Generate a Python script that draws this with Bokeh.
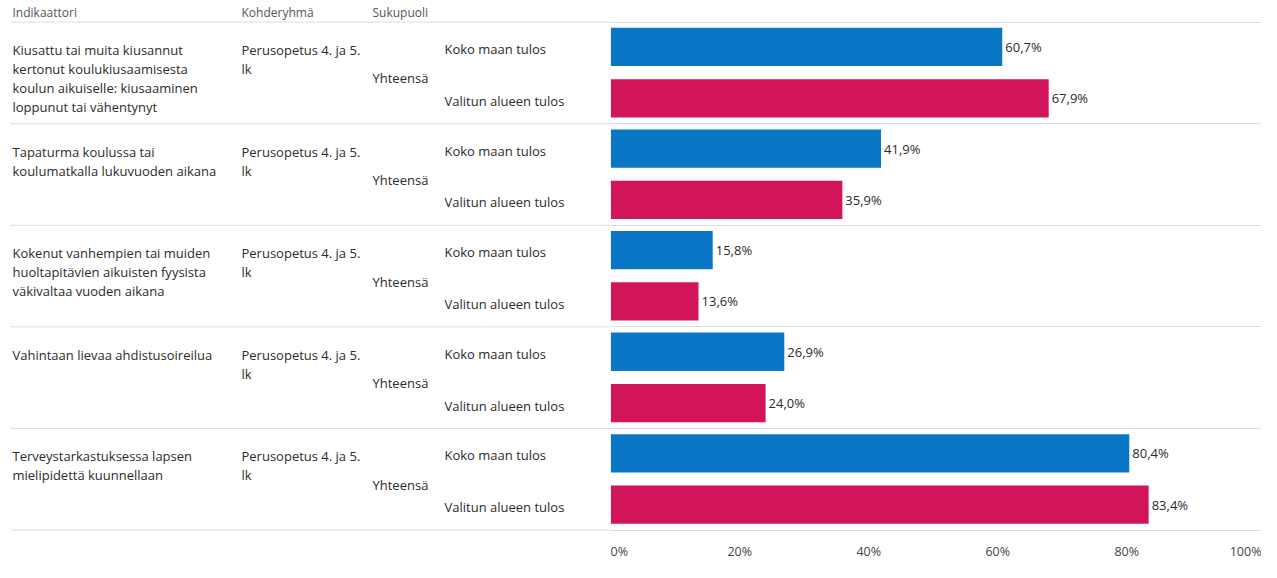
from bokeh.plotting import figure
from bokeh.layouts import row
from bokeh.models import Range1d, FixedTicker, CustomJSTickFormatter, ColumnDataSource
from bokeh.core.properties import value
from bokeh.embed import file_html
from bokeh.resources import INLINE

# ---------------- data ----------------
header_labels = ["Indikaattori", "Kohderyhmä", "Sukupuoli"]
indicators = [
    "Kiusattu tai muita kiusannut\nkertonut koulukiusaamisesta\nkoulun aikuiselle: kiusaaminen\nloppunut tai vähentynyt",
    "Tapaturma koulussa tai\nkoulumatkalla lukuvuoden aikana",
    "Kokenut vanhempien tai muiden\nhuoltapitävien aikuisten fyysista\nväkivaltaa vuoden aikana",
    "Vahintaan lievaa ahdistusoireilua",
    "Terveystarkastuksessa lapsen\nmielipidettä kuunnellaan",
]
target_groups = ["Perusopetus 4. ja 5.\nlk"] * 5
genders = ["Yhteensä"] * 5
series_names = ["Koko maan tulos", "Valitun alueen tulos"]
national = [60.7, 41.9, 15.8, 26.9, 80.4]
regional = [67.9, 35.9, 13.6, 24.0, 83.4]
x_ticks = [0, 20, 40, 60, 80, 100]

# ---------------- layout constants ----------------
U = 103.5             # pixels per indicator group
TOP = 22              # pixels above the first separator
H = 562
BOTTOM = 21
FONT = value("Open Sans")
BLUE = "#0a77c6"
RED = "#d2145a"
SEP = "#dcdbe6"
TXT = "#2b2b2b"
n = len(indicators)
y_rng = Range1d(start=n + 1.5 / U, end=-TOP / U)

# ---------------- left table ----------------
LW = 610
left = figure(width=LW, height=H, x_range=Range1d(0, LW), y_range=y_rng,
              output_backend="svg", toolbar_location=None,
              min_border_left=0, min_border_right=0, min_border_top=0,
              min_border_bottom=BOTTOM)
left.axis.visible = False
left.grid.visible = False
left.outline_line_color = None

col_x = [12, 241, 372]
left.text(x=col_x, y=[-10 / U] * 3, text=header_labels, text_font=FONT,
          text_font_size="12px", text_color="#555555", text_baseline="middle")

LINE = 19.3 / U
tx, ty, tt = [], [], []
for i in range(n):
    for k, line in enumerate(indicators[i].split("\n")):
        tx.append(col_x[0]); ty.append(i + 0.275 + k * LINE); tt.append(line)
    for k, line in enumerate(target_groups[i].split("\n")):
        tx.append(col_x[1]); ty.append(i + 0.275 + k * LINE); tt.append(line)
    tx.append(col_x[2]); ty.append(i + 0.555); tt.append(genders[i])
    tx.append(444); ty.append(i + 0.265); tt.append(series_names[0])
    tx.append(444); ty.append(i + 0.775); tt.append(series_names[1])
left.text(x=tx, y=ty, text=tt, text_font=FONT, text_font_size="13px",
          text_color=TXT, text_baseline="middle")
left.segment(x0=[10] * (n + 1), x1=[LW] * (n + 1), y0=list(range(n + 1)),
             y1=list(range(n + 1)), line_color=SEP, line_width=1)

# ---------------- right bars ----------------
RW = 651
right = figure(width=RW, height=H, x_range=Range1d(-0.05, 100.9), y_range=y_rng,
               output_backend="svg", toolbar_location=None,
               min_border_left=0, min_border_right=0, min_border_top=0,
               min_border_bottom=BOTTOM)
right.grid.visible = False
right.yaxis.visible = False
right.outline_line_color = None

idx = list(range(n))
src_n = ColumnDataSource(dict(y=[i + 0.245 for i in idx], v=national,
                              lab=[f"{v:.1f}".replace(".", ",") + "%" for v in national]))
src_r = ColumnDataSource(dict(y=[i + 0.75 for i in idx], v=regional,
                              lab=[f"{v:.1f}".replace(".", ",") + "%" for v in regional]))
bh = 39 / U
right.hbar(y="y", left=0, right="v", height=bh, source=src_n, fill_color=BLUE, line_color=None)
right.hbar(y="y", left=0, right="v", height=bh, source=src_r, fill_color=RED, line_color=None)
for s in (src_n, src_r):
    right.text(x="v", y="y", text="lab", source=s, x_offset=3, text_font=FONT,
               text_font_size="13px", text_color=TXT, text_baseline="middle")
right.hspan(y=list(range(n + 1)), line_color=SEP, line_width=1)

ax = right.xaxis[0]
ax.ticker = FixedTicker(ticks=x_ticks)
ax.formatter = CustomJSTickFormatter(code="return tick + '%'")
ax.axis_line_color = None
ax.major_tick_line_color = None
ax.minor_tick_line_color = None
ax.major_label_standoff = 5
ax.major_label_text_font = "Open Sans"
ax.major_label_text_font_size = "12.5px"
ax.major_label_text_color = "#444444"

layout = row(left, right, spacing=0)
open("out.html", "w").write(file_html(layout, INLINE))
